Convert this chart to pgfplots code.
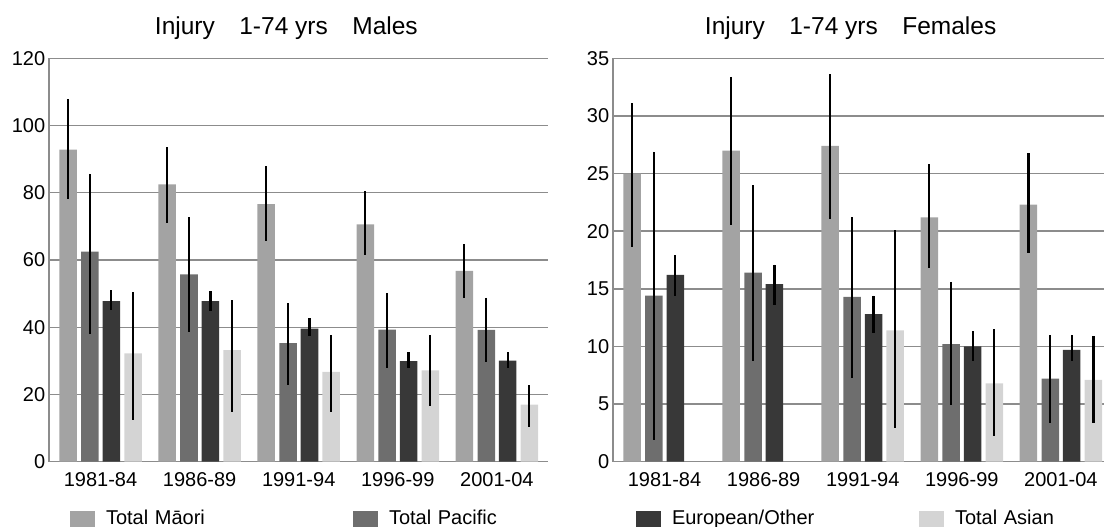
\documentclass[border=0pt]{standalone}
\usepackage{fontspec}
\setmainfont{Liberation Sans}
\usepackage{pgfplots}
\usepackage{pgfplotstable}
\pgfplotsset{compat=1.18}

\definecolor{cMaori}{gray}{0.64}
\definecolor{cPacific}{gray}{0.43}
\definecolor{cEuro}{gray}{0.22}
\definecolor{cAsian}{gray}{0.83}
\definecolor{cGrid}{gray}{0.55}

% Males
\pgfplotstableread{
x y lo hi
0 92.8 78.0 107.9
1 82.5 71.0 93.6
2 76.6 65.6 88.0
3 70.6 61.4 80.5
4 56.8 48.6 64.8
}\mMaori
\pgfplotstableread{
x y lo hi
0 62.5 38.1 85.7
1 55.7 38.6 72.7
2 35.3 22.8 47.2
3 39.3 28.0 50.2
4 39.2 29.6 48.8
}\mPacific
\pgfplotstableread{
x y lo hi
0 47.8 45.0 51.0
1 47.8 44.9 50.8
2 39.6 37.3 42.6
3 29.9 28.0 32.5
4 30.1 28.0 32.6
}\mEuro
\pgfplotstableread{
x y lo hi
0 32.2 12.4 50.5
1 33.2 14.9 48.0
2 26.7 14.9 37.8
3 27.2 16.5 37.8
4 17.0 10.4 22.7
}\mAsian
% Females
\pgfplotstableread{
x y lo hi
0 25.0 18.6 31.1
1 27.0 20.5 33.4
2 27.4 21.1 33.6
3 21.2 16.8 25.8
4 22.3 18.1 26.8
}\fMaori
\pgfplotstableread{
x y lo hi
0 14.4 1.9 26.9
1 16.4 8.7 24.0
2 14.3 7.25 21.2
3 10.2 4.9 15.6
4 7.2 3.4 11.0
}\fPacific
\pgfplotstableread{
x y lo hi
0 16.2 14.4 17.9
1 15.4 13.6 17.1
2 12.8 11.2 14.4
3 10.0 8.7 11.3
4 9.7 8.7 11.0
}\fEuro
\pgfplotstableread{
x y lo hi
2 11.4 2.9 20.1
3 6.8 2.2 11.5
4 7.1 3.4 10.9
}\fAsian

\pgfplotsset{
  injury/.style={
    scale only axis,
    height=201.7bp,
    anchor=south west,
    ybar, bar width=0.177,
    ymin=0,
    axis x line*=bottom, axis y line*=left,
    axis line style={draw=cGrid, line width=0.7bp},
    ymajorgrids, grid style={draw=cGrid, line width=0.7bp},
    xtick={0,1,2,3,4},
    xticklabels={1981-84,1986-89,1991-94,1996-99,2001-04},
    tick style={draw=none},
    tick label style={font=\fontsize{10bp}{12bp}\selectfont},
    xticklabel style={yshift=2.3bp},
    yticklabel style={xshift=1.6bp},
    /pgf/number format/assume math mode=true,
    every axis title/.style={font=\fontsize{12.25bp}{14bp}\selectfont, anchor=base, yshift=11.65bp},
    legend image code/.code={\fill[##1] (0bp,-1bp) rectangle (12.5bp,7bp);},
  },
  bars/.style={draw=none, fill=#1,
    error bars/y dir=both, error bars/y explicit, error bars/error mark=none,
    error bars/error bar style={draw=black, solid, line width=1.1bp}},
}

\begin{document}
\begin{tikzpicture}
\path[use as bounding box] (0,0) rectangle (552bp,263.5bp);
\begin{axis}[injury,
  at={(24.5bp,32.65bp)},
  width=249.5bp,
  xmin=-0.52, xmax=4.516,
  ymax=120, ytick={0,20,...,120},
  title={Injury\quad 1-74 yrs\quad Males},
  title style={at={(0.4757,1)}},
  legend columns=4,
  legend style={at={(0.0421,-0.1207)}, anchor=north west, draw=none, fill=none,
    inner sep=0pt, outer sep=0pt, font=\fontsize{10bp}{12bp}\selectfont,
    cells={anchor=base west},
    nodes={inner sep=0pt, text width=123.5bp, align=left, text depth=0pt},
    /tikz/every odd column/.append style={column sep=5.5bp}},
]
\addplot[bars=cMaori, bar shift=-0.328] table[x=x, y=y, y error plus expr=\thisrow{hi}-\thisrow{y}, y error minus expr=\thisrow{y}-\thisrow{lo}]{\mMaori};
\addplot[bars=cPacific, bar shift=-0.107] table[x=x, y=y, y error plus expr=\thisrow{hi}-\thisrow{y}, y error minus expr=\thisrow{y}-\thisrow{lo}]{\mPacific};
\addplot[bars=cEuro, bar shift=0.109] table[x=x, y=y, y error plus expr=\thisrow{hi}-\thisrow{y}, y error minus expr=\thisrow{y}-\thisrow{lo}]{\mEuro};
\addplot[bars=cAsian, bar shift=0.328] table[x=x, y=y, y error plus expr=\thisrow{hi}-\thisrow{y}, y error minus expr=\thisrow{y}-\thisrow{lo}]{\mAsian};
\addlegendentry{Total Māori}
\addlegendentry{Total Pacific}
\addlegendentry{European/Other}
\addlegendentry{Total Asian}
\end{axis}
\begin{axis}[injury,
  at={(306.5bp,32.65bp)},
  width=245.5bp,
  xmin=-0.52, xmax=4.435,
  ymax=35, ytick={0,5,...,35},
  title={Injury\quad 1-74 yrs\quad Females},
  title style={at={(0.484,1)}},
]
\addplot[bars=cMaori, bar shift=-0.328] table[x=x, y=y, y error plus expr=\thisrow{hi}-\thisrow{y}, y error minus expr=\thisrow{y}-\thisrow{lo}]{\fMaori};
\addplot[bars=cPacific, bar shift=-0.107] table[x=x, y=y, y error plus expr=\thisrow{hi}-\thisrow{y}, y error minus expr=\thisrow{y}-\thisrow{lo}]{\fPacific};
\addplot[bars=cEuro, bar shift=0.109] table[x=x, y=y, y error plus expr=\thisrow{hi}-\thisrow{y}, y error minus expr=\thisrow{y}-\thisrow{lo}]{\fEuro};
\addplot[bars=cAsian, bar shift=0.328] table[x=x, y=y, y error plus expr=\thisrow{hi}-\thisrow{y}, y error minus expr=\thisrow{y}-\thisrow{lo}]{\fAsian};
\end{axis}
\end{tikzpicture}
\end{document}
